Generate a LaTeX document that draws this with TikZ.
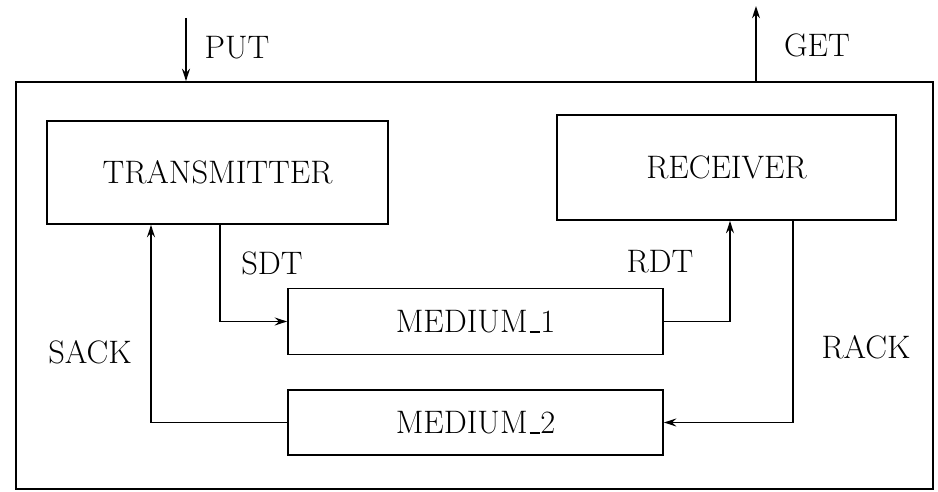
\documentclass[tikz,border=0pt]{standalone}
\usetikzlibrary{arrows.meta}
\newcommand{\usc}{\kern.06em\rule[-0.01em]{0.33em}{0.05em}}
\begin{document}
\begin{tikzpicture}[x=0.2mm, y=-0.2mm,
    >={Stealth[length=7pt,width=4.5pt]},
    box/.style={draw, line width=1pt, inner sep=0pt},
    lbl/.style={inner sep=0pt},
    font=\fontsize{18.5}{22}\selectfont]
    \useasboundingbox (0,0) rectangle (938,492);

    % outer system and its four parts
    \node[box, minimum width=18.34cm, minimum height=8.14cm] (system) at (474.5,285.5) {};
    \node[box, minimum width=6.82cm, minimum height=2.06cm] (tx) at (217.5,172.5) {TRANSMITTER};
    \node[box, minimum width=6.78cm, minimum height=2.10cm] (rx) at (726.5,167.5) {RECEIVER};
    \node[box, minimum width=7.50cm, minimum height=1.32cm] (m1) at (475.5,321.5) {MEDIUM\usc1};
    \node[box, minimum width=7.50cm, minimum height=1.30cm] (m2) at (475.5,422.5) {MEDIUM\usc2};

    % outside world
    \coordinate (put) at (186,18);
    \coordinate (get) at (756,6);
    \draw[->, line width=0.9pt] (put) -- (put |- system.north);
    \draw[->, line width=0.9pt] (get |- system.north) -- (get);
    \node[lbl] (putlbl) at (237,48) {PUT};
    \node[lbl] (getlbl) at (817,45) {GET};

    % channels
    \draw[->, line width=0.8pt] ([xshift=0.05cm]tx.south) |- (m1.west);
    \draw[->, line width=0.8pt] (m1.east) -| ([xshift=0.07cm]rx.south);
    \draw[->, line width=0.8pt] ([xshift=1.33cm]rx.south) |- (m2.east);
    \draw[->, line width=0.8pt] (m2.west) -| ([xshift=-1.33cm]tx.south);

    \node[lbl] (sdt) at (272,263) {SDT};
    \node[lbl] (rdt) at (660,262) {RDT};
    \node[lbl] (sack) at (90,352) {SACK};
    \node[lbl] (rack) at (866,347) {RACK};
\end{tikzpicture}
\end{document}
